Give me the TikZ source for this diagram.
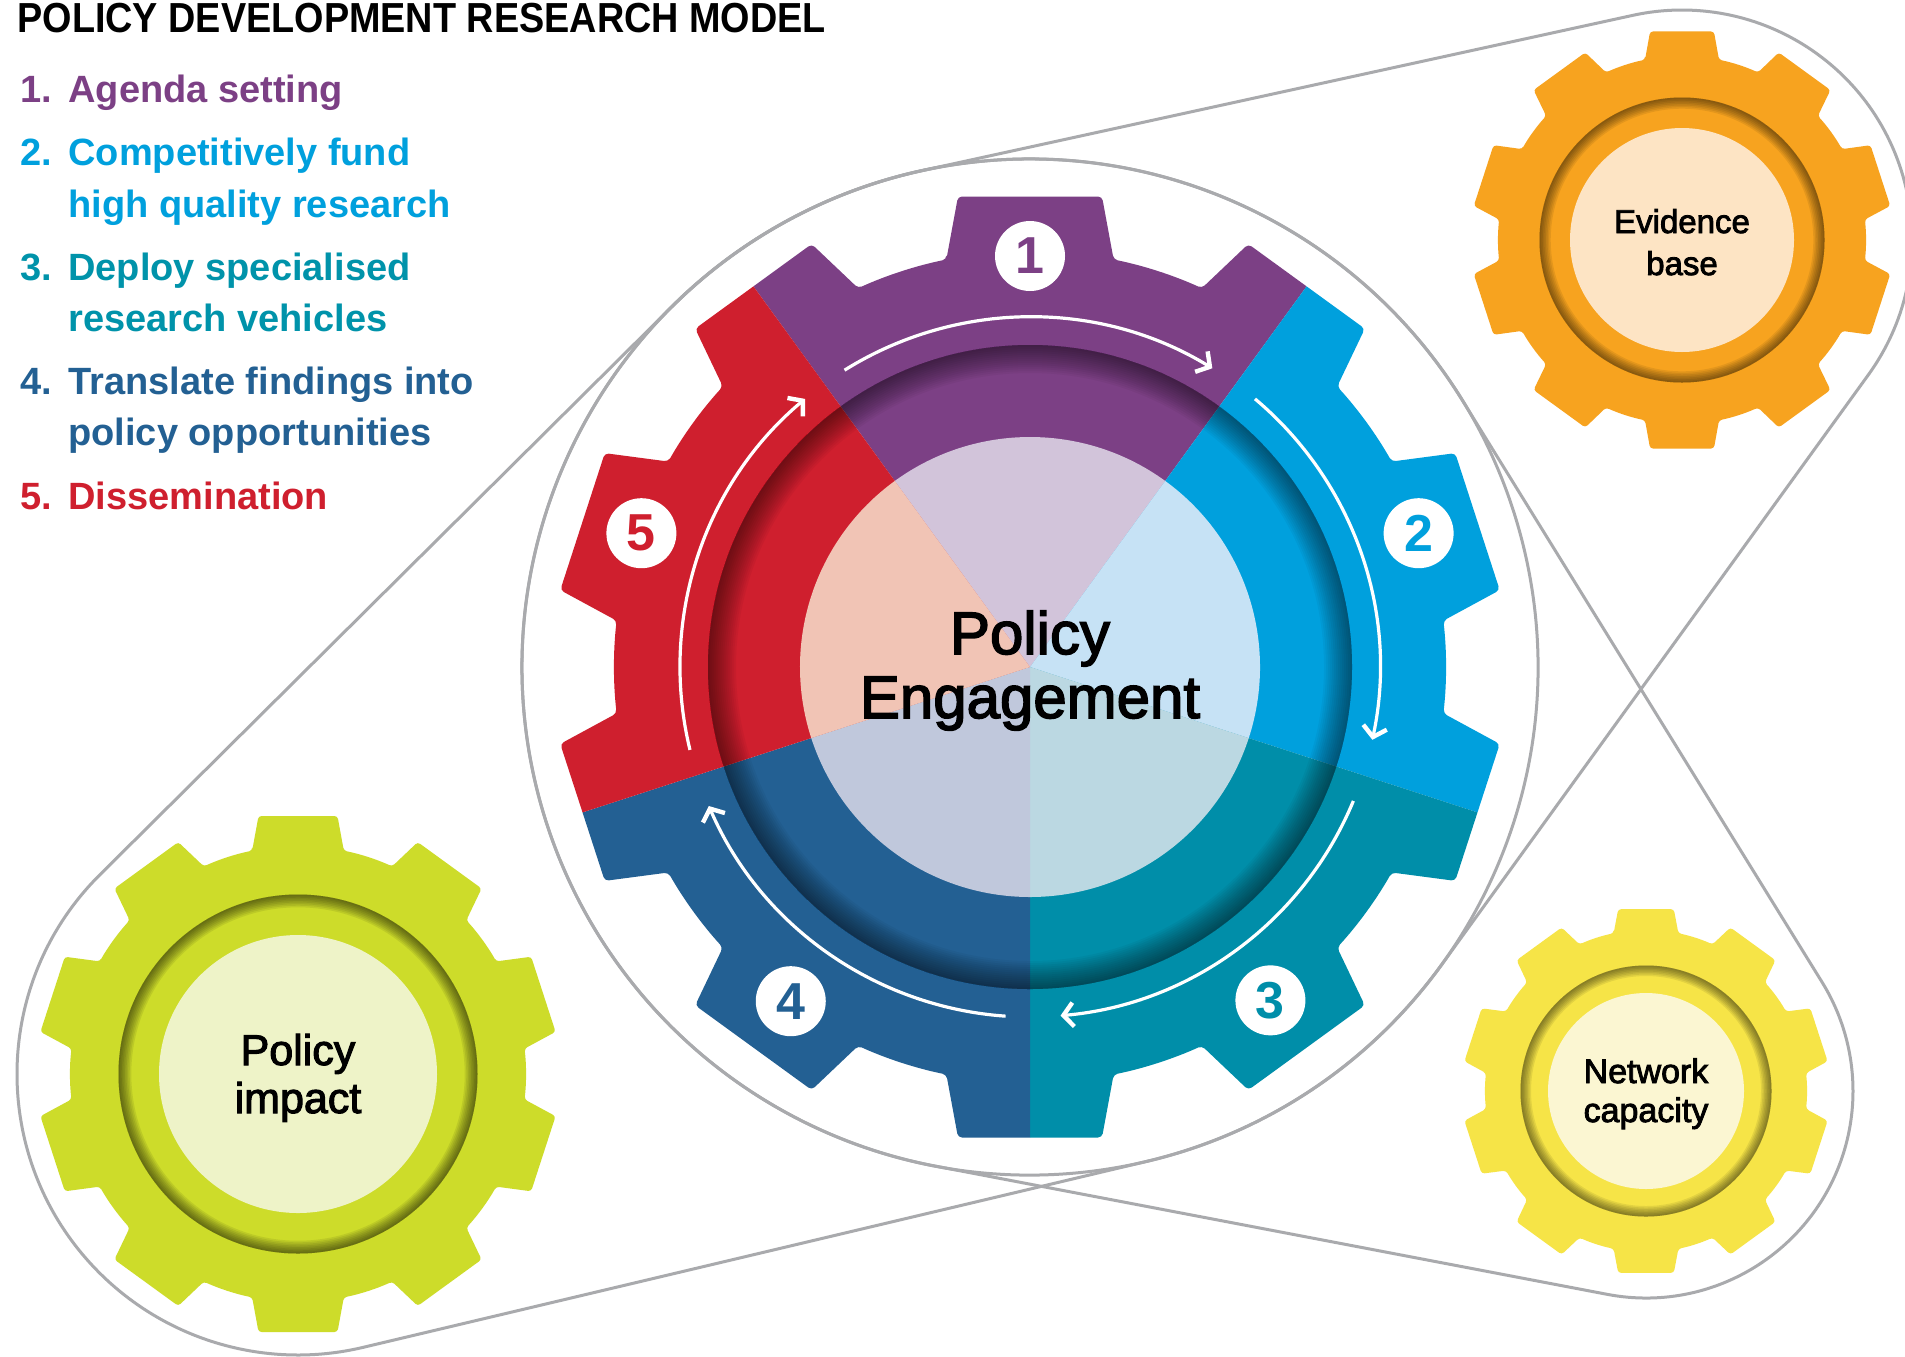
\documentclass[tikz,border=0pt]{standalone}
\usepackage{fontspec}
\setmainfont{Liberation Sans}
\newfontfamily\medfont{Liberation Sans}[FakeBold=2.5]
\usetikzlibrary{arrows.meta,calc}
\definecolor{cPurple}{HTML}{7C4085}
\definecolor{cBlue}{HTML}{00A0DD}
\definecolor{cTeal}{HTML}{008EA9}
\definecolor{cDark}{HTML}{236093}
\definecolor{cRed}{HTML}{CF1F2E}
\definecolor{pPurple}{HTML}{D2C4DA}
\definecolor{pBlue}{HTML}{C6E2F5}
\definecolor{pTeal}{HTML}{BBD8E2}
\definecolor{pDark}{HTML}{C0C8DC}
\definecolor{pRed}{HTML}{F1C4B5}
\definecolor{lTeal}{HTML}{0093AA}
\definecolor{cOrange}{HTML}{F7A31F}
\definecolor{pOrange}{HTML}{FDE4C4}
\definecolor{cLime}{HTML}{CDDC2A}
\definecolor{pLime}{HTML}{EEF3C8}
\definecolor{cYellow}{HTML}{F6E447}
\definecolor{pYellow}{HTML}{FBF6D2}
\definecolor{beltgray}{HTML}{A9AAAD}
% gear outline: #1 tip radius, #2 root radius (10 teeth, one at 90 deg)
\newcommand\gearshape[2]{(101.6:#2) \foreach \k [evaluate=\k as \tb using 90-36*\k+8.7,
  evaluate=\k as \tc using 90-36*\k-8.7, evaluate=\k as \td using 90-36*\k-11.6,
  evaluate=\k as \te using 90-36*\k-24.4] in {0,...,9}{ -- (\tb:#1) -- (\tc:#1) -- (\td:#2)
  arc[start angle=\td, end angle=\te, radius=#2]} -- cycle}
% inset shadow: #1 radius, #2 steps, #3 step width, #4 opacity
\newcommand\insetshadow[4]{\foreach \k in {1,...,#2}{\fill[black,opacity=#4,even odd rule] (0,0) circle (#1) circle ({#1-#3*\k});}}
% belt outline around two circles
\newcommand\belt[6]{%
  \pgfmathsetmacro\bth{atan2((#5)-(#2),(#4)-(#1))}%
  \pgfmathsetmacro\bd{100*veclen(((#4)-(#1))/100,((#5)-(#2))/100)}%
  \pgfmathsetmacro\bph{acos(((#3)-(#6))/\bd)}%
  \pgfmathsetmacro\bA{\bth+\bph}%
  \pgfmathsetmacro\bB{\bth+360-\bph}%
  \pgfmathsetmacro\bC{\bth-\bph}%
  \draw[belt] ($(#1,#2)+(\bA:#3)$) arc[start angle=\bA, end angle=\bB, radius=#3]
    -- ($(#4,#5)+(\bC:#6)$) arc[start angle=\bC, end angle=\bA, radius=#6] -- cycle;}
\begin{document}
\begin{tikzpicture}[x=0.5pt,y=0.5pt,
  belt/.style={draw=beltgray,line width=1.5pt},
  leg/.style={anchor=base west,inner sep=0pt,font=\fontsize{19}{19}\selectfont\bfseries},
  numc/.style={circle,fill=white,minimum size=35pt,inner sep=0pt,font=\fontsize{26}{26}\selectfont\bfseries},
  warrow/.style={white,line width=1.6pt,-{Straight Barb[length=5pt,width=12pt,line width=2.2pt]}},
  lbl/.style={anchor=base,inner sep=0pt,text=black}]
\useasboundingbox (0,0) rectangle (1905,-1356);
\clip (0,0) rectangle (1905,-1356);
\fill[white] (0,0) rectangle (1905,-1356);

% belts
\belt{1030}{-667}{508}{298}{-1074}{281}
\belt{1030}{-667}{508}{1682}{-240}{230}
\belt{1030}{-667}{508}{1646}{-1091}{207}

% central gear
\begin{scope}[shift={(1030,-667)}]
  \begin{scope}
    \clip[rounded corners=2pt] \gearshape{476}{416};
    \fill[cPurple] (0,0) -- (54:600) arc[start angle=54,end angle=126,radius=600] -- cycle;
    \fill[cBlue] (0,0) -- (-18:600) arc[start angle=-18,end angle=54,radius=600] -- cycle;
    \fill[cTeal] (0,0) -- (-90:600) arc[start angle=-90,end angle=-18,radius=600] -- cycle;
    \fill[cDark] (0,0) -- (-162:600) arc[start angle=-162,end angle=-90,radius=600] -- cycle;
    \fill[cRed] (0,0) -- (126:600) arc[start angle=126,end angle=198,radius=600] -- cycle;
  \end{scope}
  \insetshadow{322}{14}{2}{0.04}
  \fill[pPurple] (0,0) -- (54:230) arc[start angle=54,end angle=126,radius=230] -- cycle;
  \fill[pBlue] (0,0) -- (-18:230) arc[start angle=-18,end angle=54,radius=230] -- cycle;
  \fill[pTeal] (0,0) -- (-90:230) arc[start angle=-90,end angle=-18,radius=230] -- cycle;
  \fill[pDark] (0,0) -- (-162:230) arc[start angle=-162,end angle=-90,radius=230] -- cycle;
  \fill[pRed] (0,0) -- (126:230) arc[start angle=126,end angle=198,radius=230] -- cycle;
  % cycle arrows
  \draw[warrow] (122:350) arc[start angle=122,end angle=58.6,radius=350];
  \draw[warrow] (50:350) arc[start angle=50,end angle=-12,radius=350];
  \draw[warrow] (-22.5:350) arc[start angle=-22.5,end angle=-85,radius=350];
  \draw[warrow] (-94:350) arc[start angle=-94,end angle=-156.6,radius=350];
  \draw[warrow] (193.7:350) arc[start angle=193.7,end angle=130,radius=350];
  % numbers
  \node[numc,text=cPurple] (n1) at (90:411) {1};
  \node[numc,text=cBlue] (n2) at (19:411) {2};
  \node[numc,text=cTeal] (n3) at (-54.2:411) {3};
  \node[numc,text=cDark] (n4) at (-125.6:411) {4};
  \node[numc,text=cRed] (n5) at (161:411) {5};
\end{scope}
\node[lbl,font=\medfont\fontsize{30}{30}\selectfont] (pe1) at (1030,-654) {Policy};
\node[lbl,font=\medfont\fontsize{30}{30}\selectfont] (pe2) at (1030,-718) {Engagement};

% evidence base gear
\begin{scope}[shift={(1682,-240)}]
  \fill[cOrange,rounded corners=1.5pt] \gearshape{211}{184};
  \insetshadow{142.5}{7}{1.6}{0.08}
  \fill[pOrange] (0,0) circle (112);
\end{scope}
\node[lbl,font=\medfont\fontsize{16.5}{16.5}\selectfont] (eb1) at (1682,-233) {Evidence};
\node[lbl,font=\medfont\fontsize{16.5}{16.5}\selectfont] (eb2) at (1682,-275) {base};

% policy impact gear
\begin{scope}[shift={(298,-1074)}]
  \fill[cLime,rounded corners=1.5pt] \gearshape{261}{228};
  \insetshadow{179.5}{8}{1.6}{0.08}
  \fill[pLime] (0,0) circle (139);
\end{scope}
\node[lbl,font=\medfont\fontsize{21.5}{21.5}\selectfont] (pi1) at (298,-1065) {Policy};
\node[lbl,font=\medfont\fontsize{21.5}{21.5}\selectfont] (pi2) at (298,-1113) {impact};

% network capacity gear
\begin{scope}[shift={(1646,-1091)}]
  \fill[cYellow,rounded corners=1.5pt] \gearshape{184}{161};
  \insetshadow{125.5}{7}{1.5}{0.08}
  \fill[pYellow] (0,0) circle (98);
\end{scope}
\node[lbl,font=\medfont\fontsize{17}{17}\selectfont] (nc1) at (1646,-1083) {Network};
\node[lbl,font=\medfont\fontsize{17}{17}\selectfont] (nc2) at (1646,-1122) {capacity};

% title and legend
\node[anchor=base west,inner sep=0pt] (title) at (17,-32)
  {\scalebox{0.9}[1]{\fontsize{21}{21}\selectfont\bfseries POLICY DEVELOPMENT RESEARCH MODEL}};
\node[leg,text=cPurple] (l1n) at (20,-102.6) {1.};
\node[leg,text=cPurple] (l1) at (68,-102.6) {Agenda setting};
\node[leg,text=cBlue] (l2n) at (20,-165) {2.};
\node[leg,text=cBlue] (l2a) at (68,-165) {Competitively fund};
\node[leg,text=cBlue] (l2b) at (68,-217) {high quality research};
\node[leg,text=lTeal] (l3n) at (20,-280) {3.};
\node[leg,text=lTeal] (l3a) at (68,-280) {Deploy specialised};
\node[leg,text=lTeal] (l3b) at (68,-331) {research vehicles};
\node[leg,text=cDark] (l4n) at (20,-394) {4.};
\node[leg,text=cDark] (l4a) at (68,-394) {Translate findings into};
\node[leg,text=cDark] (l4b) at (68,-445) {policy opportunities};
\node[leg,text=cRed] (l5n) at (20,-509) {5.};
\node[leg,text=cRed] (l5) at (68,-509) {Dissemination};
\end{tikzpicture}
\end{document}
